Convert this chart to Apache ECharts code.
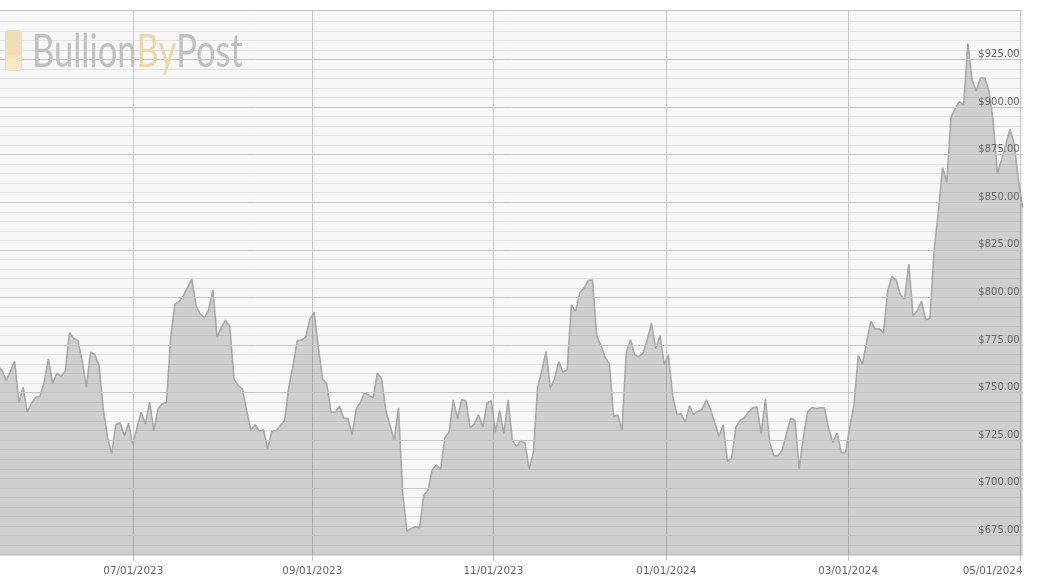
<!DOCTYPE html>
<html>
<head>
<meta charset="utf-8">
<style>html,body{margin:0;padding:0;background:#fff}#c{width:1038px;height:584px}</style>
<script src="https://cdn.jsdelivr.net/npm/echarts@6/dist/echarts.min.js"></script>
</head>
<body>
<div id="c"></div>
<script>
// Price per trading day, in order (first point sits just left of the visible area)
const prices = [
764.2,761.6,756.3,761.2,766.5,744.6,752.8,739.7,744.5,747.6,
748,755.5,767.7,754.9,760.2,758.6,761.2,781.5,778.4,777.3,
766.8,752.8,771.2,770,764.2,741.5,726.6,717.9,733.1,734.2,
727.2,734,722.8,731.5,739.7,733.6,745,730.1,741.5,744.1,
744.8,779.1,796.5,797.9,800.9,805.3,809.6,795.7,791.3,789.2,
793.4,804,779.1,784.3,788.1,784.7,757.2,753.7,752,740.6,
730.1,733.1,729.8,730.5,720.5,729.8,730.1,732.7,735.4,752.8,
764.2,777.3,777.6,779,788.6,792.3,773.8,757.2,754.6,739.7,
739.7,742.9,736.6,736.4,728,741.5,745,750,748.6,747.2,
760.3,757.2,740.6,732.7,724.9,742,697,677.2,678.6,679.5,
679.1,696.1,698.7,709.5,712,709.7,726.3,729.3,746.2,736.2,
746.4,745.5,731.5,733.6,738.3,731.9,744.4,745.8,729.3,740.6,
728.4,746.2,724.9,721.7,724.9,723.5,709.7,718.8,752.9,761.6,
771.5,752.3,757.2,766.3,760.7,762.1,796,792.7,802.5,804.9,
809,809.1,779.9,774.7,768.6,765.1,737.5,738.2,730.5,770.8,
777.8,769.8,768.9,770.8,777.8,786.4,773,779.9,764.7,769.8,
748.5,738.5,738.9,734.5,743.2,738.4,740.1,741.2,746.2,741,
734,727,733.1,713.9,715.6,731.9,735.4,736.8,739.8,742,
742.4,728.4,746.7,724,717,716.9,719.7,728.4,736.6,735.4,
710,726.7,739.8,742.2,741.7,742,742,731,723.9,728.8,
718.5,718.5,731.9,743.3,769.5,765.1,776.4,787.5,783.4,783.6,
781.3,803.5,810.9,809.1,801.4,799.2,817.5,790.4,793,798,
788.3,788.9,824.5,845,868.2,860.5,894.7,899.3,902.8,901,
933.3,914.1,908.4,915.2,915.2,908.4,892.6,865,872.5,880.4,
888.3,880.4,861.2,847.2
];
const dateLabels = ['07/01/2023','09/01/2023','11/01/2023','01/01/2024','03/01/2024','05/01/2024'];
const datePositions = [31.13,73.57,116.5,157.5,200.6,241.5];
const priceLabels = [675,700,725,750,775,800,825,850,875,900,925];
const majorLines = [675,700,725,750,775,800,825,850,875,900,925,950.7];
const minorLines = [665,670,680,685,690,695,705,710,715,720,730,735,740,745,755,760,765,770,780,785,790,795,805,810,815,820,830,835,840,845,855,860,865,870,880,885,890,895,905,910,915,920,930,935,940,945];
const yMin = 664.3, yMax = 950.7;

const points = prices.map((p, i) => [i - 1, p]);
const chart = echarts.init(document.getElementById('c'), null, {renderer: 'canvas'});
const FONT = '"DejaVu Sans"';
chart.setOption({
  animation: false,
  backgroundColor: '#ffffff',
  grid: {left: 0, right: 15.3, top: 10.5, bottom: 28.2, show: true, backgroundColor: '#f7f7f7', borderWidth: 0},
  xAxis: {
    type: 'value', min: -0.474, max: 242,
    axisLine: {show: false},
    axisTick: {show: true, customValues: datePositions, length: 5, lineStyle: {color: '#c8c8c8', width: 1}},
    splitLine: {show: true, lineStyle: {color: '#c8c8c8', width: 1}},
    axisLabel: {
      customValues: datePositions, margin: 10, color: '#666', fontFamily: FONT, fontSize: 10.4,
      showMinLabel: true, showMaxLabel: true, hideOverlap: false,
      formatter: v => {
        const i = datePositions.indexOf(v);
        return i === dateLabels.length - 1 ? '{r|' + dateLabels[i] + '}' : dateLabels[i];
      },
      rich: {r: {padding: [0, 56, 0, 0], color: '#666', fontFamily: FONT, fontSize: 10.4}}
    }
  },
  yAxis: [
    {
      type: 'value', min: yMin, max: yMax, position: 'right', z: 3,
      axisLine: {show: false},
      axisTick: {show: false, customValues: majorLines},
      splitLine: {show: true, lineStyle: {color: '#c4c4c4', width: 1}},
      axisLabel: {
        customValues: priceLabels, inside: true, margin: 3, color: '#666',
        fontFamily: FONT, fontSize: 10, verticalAlign: 'bottom', lineHeight: 10,
        formatter: v => '$' + Number(v).toFixed(2)
      }
    },
    {
      type: 'value', min: yMin, max: yMax, position: 'right',
      axisLine: {show: false},
      axisTick: {show: false, customValues: minorLines},
      splitLine: {show: true, lineStyle: {color: '#e4e4e4', width: 1}},
      axisLabel: {show: false}
    }
  ],
  series: [{
    type: 'line', data: points, symbol: 'none', smooth: false, z: 2,
    lineStyle: {color: '#a8a8a8', width: 1.6},
    areaStyle: {color: '#000000', opacity: 0.16}
  }],
  graphic: [
    {type: 'rect', x: 5.5, y: 30.5, z: 10, silent: true,
      shape: {width: 16, height: 40, r: 3},
      style: {
        fill: {type: 'linear', x: 0, y: 0, x2: 0, y2: 1, colorStops: [
          {offset: 0, color: '#efdcb8'}, {offset: 0.6, color: '#efdcb8'},
          {offset: 0.66, color: '#f5e6c4'}, {offset: 1, color: '#f5ead0'}]},
        stroke: '#efdfba', lineWidth: 1
      }},
    {type: 'text', x: 32, y: 29, scaleX: 0.75, z: 10, silent: true,
      style: {
        text: '{a|Bullion}{b|By}{a|Post}',
        rich: {
          a: {fill: '#c0c0c0', font: '400 46px Lato'},
          b: {fill: '#ebd9aa', font: '400 46px Lato'}
        }
      }}
  ]
});
</script>
</body>
</html>
